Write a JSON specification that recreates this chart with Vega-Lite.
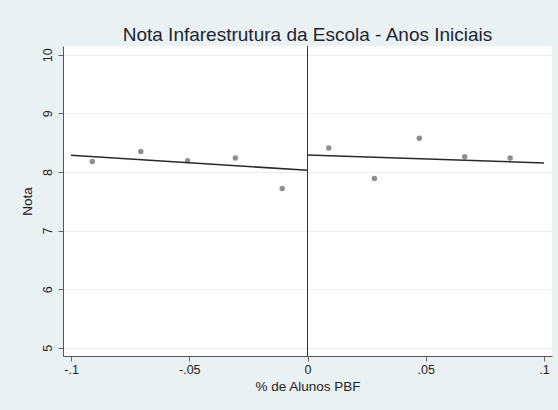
{
  "$schema": "https://vega.github.io/schema/vega-lite/v6.json",
  "autosize": {"type": "none"},
  "width": 489,
  "height": 310,
  "padding": {"left": 63, "top": 46, "right": 6, "bottom": 54},
  "background": "#eaf1f3",
  "title": {
    "text": "Nota Infarestrutura da Escola - Anos Iniciais",
    "font": "Liberation Sans",
    "fontSize": 19,
    "fontWeight": "normal",
    "color": "#1c2430",
    "offset": 1,
    "anchor": "middle"
  },
  "config": {
    "view": {"stroke": null, "fill": "white"},
    "axis": {
      "labelFont": "Liberation Sans",
      "labelFontSize": 12.5,
      "labelColor": "#222222",
      "titleFont": "Liberation Sans",
      "titleFontSize": 13.5,
      "titleFontWeight": "normal",
      "titleColor": "#222222",
      "domainColor": "#555555",
      "tickColor": "#666666",
      "tickSize": 5
    }
  },
  "datasets": {
    "medias": [
      {"pbf": -0.091, "nota": 8.18},
      {"pbf": -0.0705, "nota": 8.35},
      {"pbf": -0.0507, "nota": 8.19},
      {"pbf": -0.0305, "nota": 8.24},
      {"pbf": -0.0107, "nota": 7.72},
      {"pbf": 0.009, "nota": 8.41},
      {"pbf": 0.0283, "nota": 7.89},
      {"pbf": 0.0473, "nota": 8.575},
      {"pbf": 0.0665, "nota": 8.26},
      {"pbf": 0.0857, "nota": 8.24}
    ],
    "ajuste": [
      {"lado": "esquerda", "pbf": -0.1, "nota": 8.285},
      {"lado": "esquerda", "pbf": 0, "nota": 8.029},
      {"lado": "direita", "pbf": 0, "nota": 8.29},
      {"lado": "direita", "pbf": 0.1, "nota": 8.154}
    ],
    "corte": [{"pbf": 0}]
  },
  "layer": [
    {
      "data": {"name": "medias"},
      "mark": {"type": "circle", "size": 30, "color": "#8f8f8f", "opacity": 1},
      "encoding": {
        "x": {
          "field": "pbf",
          "type": "quantitative",
          "scale": {"domain": [-0.1034, 0.1034], "nice": false, "zero": false},
          "axis": {
            "title": "% de Alunos PBF",
            "values": [-0.1, -0.05, 0, 0.05, 0.1],
            "labelExpr": "replace(toString(datum.value), '0.', '.')",
            "grid": false,
            "labelPadding": 2,
            "titlePadding": 4
          }
        },
        "y": {
          "field": "nota",
          "type": "quantitative",
          "scale": {"domain": [4.86, 10.15], "nice": false, "zero": false},
          "axis": {
            "title": "Nota",
            "values": [5, 6, 7, 8, 9, 10],
            "format": "d",
            "grid": true,
            "gridColor": "#eeeeee",
            "gridWidth": 1,
            "labelAngle": -90,
            "labelAlign": "center",
            "labelBaseline": "bottom",
            "labelPadding": 4,
            "titlePadding": 7
          }
        }
      }
    },
    {
      "data": {"name": "ajuste"},
      "mark": {"type": "line", "color": "#2a2a2a", "strokeWidth": 1.6},
      "encoding": {
        "x": {"field": "pbf", "type": "quantitative"},
        "y": {"field": "nota", "type": "quantitative"},
        "detail": {"field": "lado"}
      }
    },
    {
      "data": {"name": "corte"},
      "mark": {"type": "rule", "color": "#333333", "strokeWidth": 1},
      "encoding": {
        "x": {"field": "pbf", "type": "quantitative"}
      }
    }
  ]
}
